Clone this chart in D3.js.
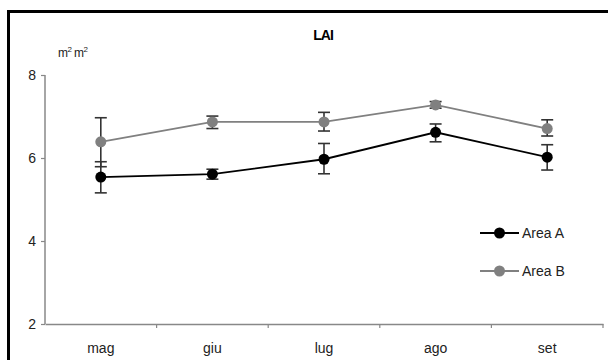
<!DOCTYPE html>
<html>
<head>
<meta charset="utf-8">
<script src="https://cdn.jsdelivr.net/npm/d3@7"></script>
<style>
  body { margin: 0; background: #fff; }
  svg { display: block; font-family: "Liberation Sans", Arial, sans-serif; }
</style>
</head>
<body>
<svg id="chart" width="608" height="360"></svg>
<script>
// months on the x axis
var months = ["mag", "giu", "lug", "ago", "set"];
var yTicks = [2, 4, 6, 8];

// means and error bar ends
var areaA = [5.54, 5.61, 5.97, 6.62, 6.02];
var areaA_lo = [5.16, 5.49, 5.62, 6.39, 5.71];
var areaA_hi = [5.91, 5.73, 6.35, 6.82, 6.32];

var areaB = [6.39, 6.87, 6.87, 7.28, 6.71];
var areaB_lo = [5.79, 6.71, 6.65, 7.20, 6.53];
var areaB_hi = [6.97, 7.01, 7.10, 7.36, 6.92];

var seriesNames = ["Area A", "Area B"];
var seriesColors = ["#000000", "#808080"];

var svg = d3.select("#chart");

// outer frame
svg.append("rect")
    .attr("x", 8.5).attr("y", 11.5)
    .attr("width", 640).attr("height", 400)
    .attr("fill", "none")
    .attr("stroke", "#000")
    .attr("stroke-width", 3);

var plotL = 45, plotR = 603, plotT = 75, plotB = 324;

var x = d3.scaleBand().domain(months).range([plotL, plotR]);
var y = d3.scaleLinear().domain([2, 8]).range([plotB, plotT]);

// axes
var xAxis = svg.append("g")
    .attr("transform", "translate(0," + plotB + ")")
    .call(d3.axisBottom(x).tickSize(0).tickPadding(19));
xAxis.select(".domain").attr("stroke", "#888").attr("stroke-width", 1.5);
xAxis.selectAll("text").attr("font-size", 14).attr("fill", "#222");

// tick marks between categories
svg.append("g").selectAll("line")
    .data(months)
    .join("line")
    .attr("x1", d => x(d) + x.bandwidth())
    .attr("x2", d => x(d) + x.bandwidth())
    .attr("y1", plotB).attr("y2", plotB + 4)
    .attr("stroke", "#888").attr("stroke-width", 1.2);

var yAxis = svg.append("g")
    .attr("transform", "translate(" + plotL + ",0)")
    .call(d3.axisLeft(y).tickValues(yTicks).tickFormat(d3.format("d")).tickSize(4).tickPadding(5));
yAxis.select(".domain").attr("stroke", "#888").attr("stroke-width", 1.5).attr("d", "M0," + plotT + "V" + plotB);
yAxis.selectAll(".tick line").attr("stroke", "#888").attr("stroke-width", 1.2);
yAxis.selectAll("text").attr("font-size", 14).attr("fill", "#222");

// title and unit
svg.append("text")
    .attr("x", 323).attr("y", 40)
    .attr("text-anchor", "middle")
    .attr("font-size", 14).attr("font-weight", "bold")
    .attr("letter-spacing", -1)
    .text("LAI");

var unit = svg.append("text")
    .attr("x", 58).attr("y", 57)
    .attr("font-size", 12).attr("fill", "#222")
    .attr("letter-spacing", -0.6);
unit.append("tspan").text("m");
unit.append("tspan").attr("dy", -5).attr("font-size", 8).text("2");
unit.append("tspan").attr("dy", 5).text(" m");
unit.append("tspan").attr("dy", -5).attr("font-size", 8).text("2");

var series = [
  { name: seriesNames[0], color: seriesColors[0], mean: areaA, lo: areaA_lo, hi: areaA_hi },
  { name: seriesNames[1], color: seriesColors[1], mean: areaB, lo: areaB_lo, hi: areaB_hi }
];

var cx = m => x(m) + x.bandwidth() / 2;
var line = d3.line().x((d, i) => cx(months[i])).y(d => y(d));

// draw B first so A sits on top
series.slice().reverse().forEach(s => {
  var g = svg.append("g");
  g.append("path")
      .attr("d", line(s.mean))
      .attr("fill", "none")
      .attr("stroke", s.color)
      .attr("stroke-width", 1.8);

  var eb = g.selectAll(".eb").data(months).join("g");
  eb.append("line")
      .attr("x1", cx).attr("x2", cx)
      .attr("y1", (m, i) => y(s.lo[i])).attr("y2", (m, i) => y(s.hi[i]))
      .attr("stroke", "#333").attr("stroke-width", 1.6);
  eb.append("line")
      .attr("x1", m => cx(m) - 6).attr("x2", m => cx(m) + 6)
      .attr("y1", (m, i) => y(s.hi[i])).attr("y2", (m, i) => y(s.hi[i]))
      .attr("stroke", "#333").attr("stroke-width", 1.6);
  eb.append("line")
      .attr("x1", m => cx(m) - 6).attr("x2", m => cx(m) + 6)
      .attr("y1", (m, i) => y(s.lo[i])).attr("y2", (m, i) => y(s.lo[i]))
      .attr("stroke", "#333").attr("stroke-width", 1.6);

  g.selectAll("circle").data(s.mean).join("circle")
      .attr("cx", (d, i) => cx(months[i]))
      .attr("cy", d => y(d))
      .attr("r", 5.5)
      .attr("fill", s.color);
});

// legend
var legend = svg.append("g").selectAll("g").data(series).join("g")
    .attr("transform", (d, i) => "translate(480," + (233 + i * 38) + ")");
legend.append("line")
    .attr("x1", 0).attr("x2", 39)
    .attr("stroke", d => d.color).attr("stroke-width", 1.8);
legend.append("circle")
    .attr("cx", 19.5).attr("r", 5.5)
    .attr("fill", d => d.color);
legend.append("text")
    .attr("x", 42).attr("dy", "0.35em")
    .attr("font-size", 14).attr("fill", "#222")
    .text(d => d.name);
</script>
</body>
</html>
